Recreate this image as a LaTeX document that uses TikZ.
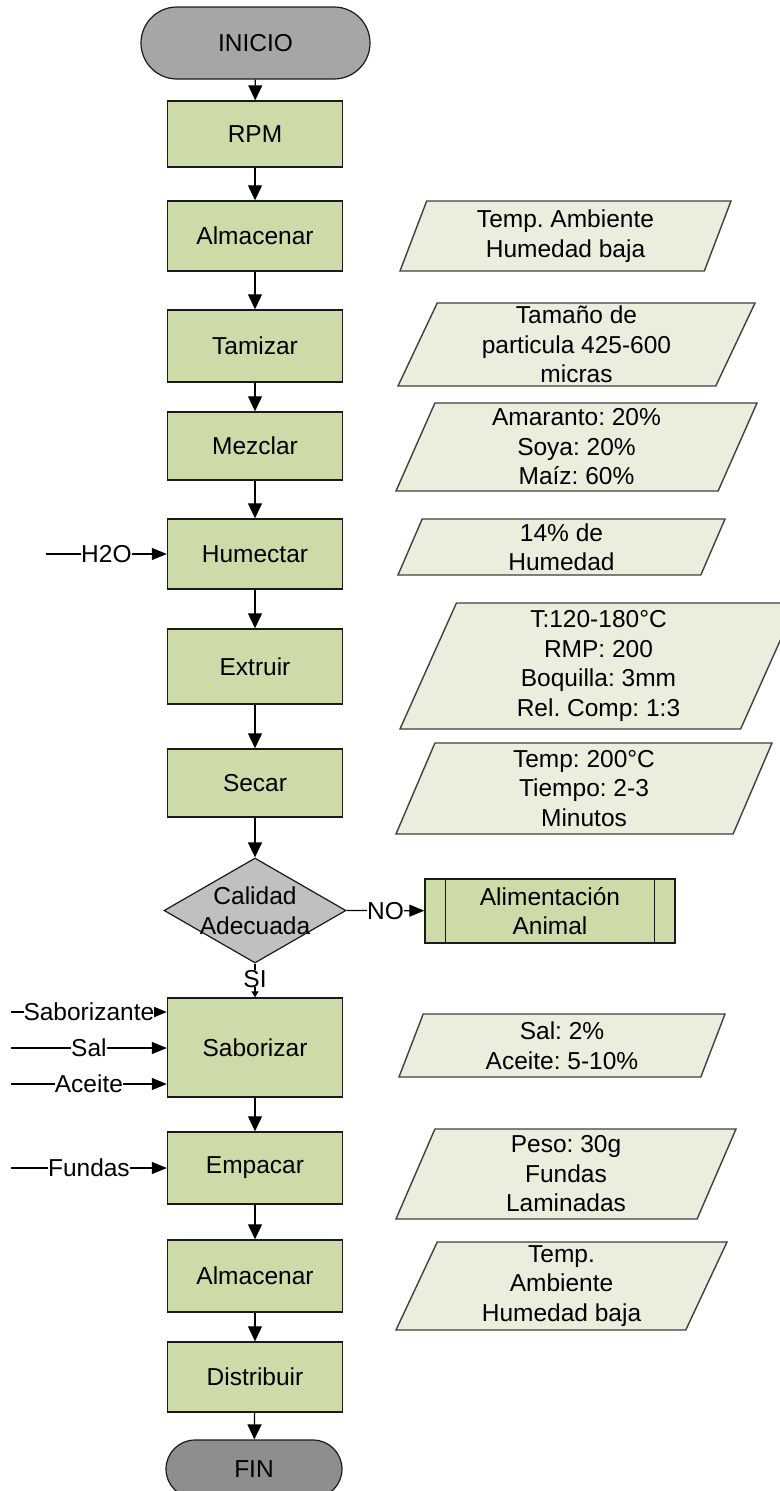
\documentclass[tikz,border=0pt]{standalone}
\usepackage{fontspec}
\setmainfont{Liberation Sans}
\usepackage{tikz}
\usetikzlibrary{positioning, arrows.meta, shapes.geometric, shapes.misc}
\definecolor{leaf}{HTML}{CCDBA8}
\definecolor{cream}{HTML}{EBEEDD}
\definecolor{stone}{HTML}{A6A6A6}
\definecolor{ash}{HTML}{8E8E8E}
\definecolor{mist}{HTML}{C0C0C0}
\definecolor{ink}{HTML}{1A1A1A}
\definecolor{slate}{HTML}{404040}
\frenchspacing

\begin{document}
\begin{tikzpicture}[x=1pt, y=-1pt,
  every node/.style={font=\fontsize{24.5}{29.5}\selectfont, align=center},
  proc/.style={rectangle, draw=ink, fill=leaf, line width=1.4pt, minimum width=175pt, inner sep=0pt},
  data/.style={trapezium, trapezium left angle=63, trapezium right angle=117, trapezium stretches body, draw=slate, fill=cream, line width=1.4pt, inner sep=0pt},
  term/.style={rounded rectangle, draw=ink, line width=1.2pt, inner sep=0pt},
  tag/.style={fill=white, inner sep=0pt},
  side/.style={-{Triangle[length=15pt,width=12pt]}},
  >={Triangle[length=15pt,width=14pt]}, line width=1.2pt
]
  \useasboundingbox (0,0) rectangle (779,1491);

  % main column
  \node[term, fill=stone, minimum width=229pt, minimum height=72pt] (inicio) at (255.5,43) {INICIO};
  \node[proc, minimum height=66pt] (rpm) at (255,134) {RPM};
  \node[proc, minimum height=70pt] (alm1) at (255,236) {Almacenar};
  \node[proc, minimum height=72pt] (tam) at (255,346) {Tamizar};
  \node[proc, minimum height=68pt] (mez) at (255,446) {Mezclar};
  \node[proc, minimum height=70pt] (hum) at (255,554) {Humectar};
  \node[proc, minimum height=75pt] (ext) at (255,666.5) {Extruir};
  \node[proc, minimum height=68pt] (sec) at (255,783) {Secar};
  \node[diamond, draw=ink, fill=mist, line width=1.2pt, minimum width=182pt, minimum height=105pt, inner sep=0pt] (cal) at (255,910.5) {};
  \node (caltxt) at (cal.center) {Calidad\\Adecuada};
  \node[proc, minimum width=250pt, minimum height=64pt] (ali) at (550,911) {Alimentación\\Animal};
  \node[proc, minimum height=99pt] (sab) at (255,1047.5) {Saborizar};
  \node[proc, minimum height=72pt] (emp) at (255,1168) {Empacar};
  \node[proc, minimum height=72pt] (alm2) at (255,1276) {Almacenar};
  \node[proc, minimum height=70pt] (dis) at (255,1377) {Distribuir};
  \node[term, fill=ash, minimum width=176pt, minimum height=58pt] (fin) at (254,1469) {FIN};

  \draw[draw=ink] ([xshift=21pt]ali.north west) -- ([xshift=21pt]ali.south west);
  \draw[draw=ink] ([xshift=-21pt]ali.north east) -- ([xshift=-21pt]ali.south east);

  % conditions
  \node[data, minimum width=331pt, minimum height=70pt] (d1) at (565.5,236) {Temp. Ambiente\\Humedad baja};
  \node[data, minimum width=357pt, minimum height=83pt] (d2) at (576.5,344.5) {Tamaño de\\particula 425-600\\micras};
  \node[data, minimum width=361pt, minimum height=88pt] (d3) at (576.5,447) {Amaranto: 20\%\\Soya: 20\%\\Maíz: 60\%};
  \node[data, minimum width=327pt, minimum height=56pt] (d4) at (561.5,547) {14\% de\\Humedad};
  \node[data, minimum width=397pt, minimum height=126pt] (d5) at (598.5,666) {T:120-180°C\\RMP: 200\\Boquilla: 3mm\\Rel. Comp: 1:3};
  \node[data, minimum width=376pt, minimum height=91pt] (d6) at (584,788.5) {Temp: 200°C\\Tiempo: 2-3\\Minutos};
  \node[data, minimum width=326pt, minimum height=63pt] (d7) at (562,1045.5) {Sal: 2\%\\Aceite: 5-10\%};
  \node[data, minimum width=340pt, minimum height=90pt] (d8) at (566,1174) {Peso: 30g\\Fundas\\Laminadas};
  \node[data, minimum width=331pt, minimum height=88pt] (d9) at (561.5,1286) {Temp.\\Ambiente\\Humedad baja};

  % flow
  \draw[->] (inicio) -- (rpm);
  \draw[->] (rpm) -- (alm1);
  \draw[->] (alm1) -- (tam);
  \draw[->] (tam) -- (mez);
  \draw[->] (mez) -- (hum);
  \draw[->] (hum) -- (ext);
  \draw[->] (ext) -- (sec);
  \draw[->] (sec) -- (cal.north);
  \draw[-{Triangle[length=6pt,width=7pt]}] (cal.south) -- node[tag, pos=0.45] {SI} (sab);
  \draw[side] (cal.east) -- node[tag] {NO} (ali);
  \draw[->] (sab) -- (emp);
  \draw[->] (emp) -- (alm2);
  \draw[->] (alm2) -- (dis);
  \draw[->] (dis) -- (fin);

  % inputs
  \coordinate (agua) at (46,554);
  \coordinate (sabz) at (11,1012);
  \coordinate (sal) at (11,1048);
  \coordinate (acei) at (11,1084);
  \coordinate (fund) at (11,1168);
  \draw[side] (agua) -- node[tag] {H2O} (agua -| hum.west);
  \draw[side] (sabz) -- node[tag] {Saborizante} (sabz -| sab.west);
  \draw[side] (sal) -- node[tag] {Sal} (sal -| sab.west);
  \draw[side] (acei) -- node[tag] {Aceite} (acei -| sab.west);
  \draw[side] (fund) -- node[tag] {Fundas} (fund -| emp.west);
\end{tikzpicture}
\end{document}
